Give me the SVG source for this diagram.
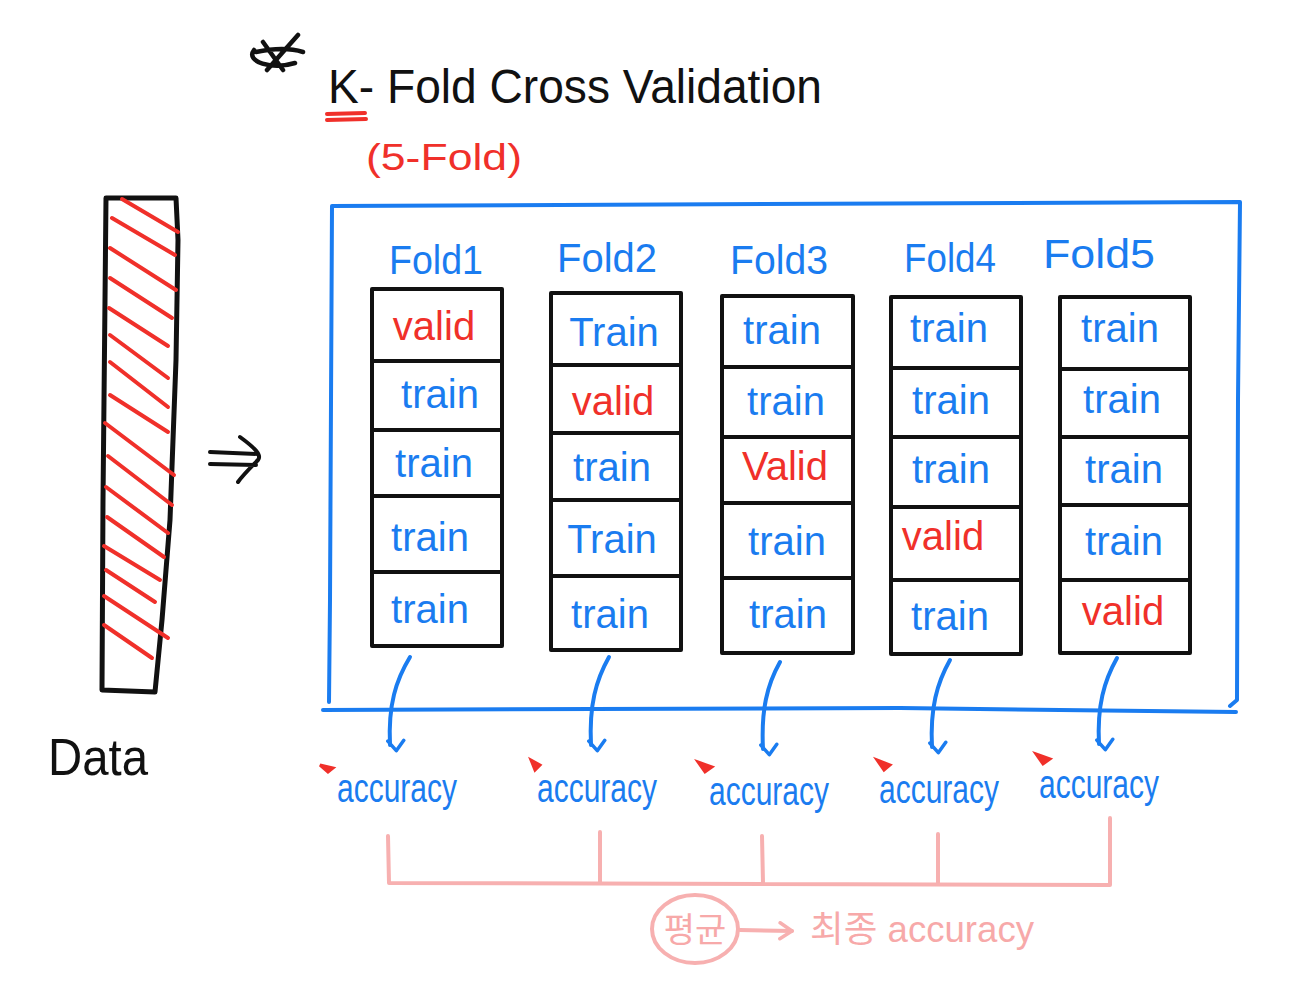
<svg xmlns="http://www.w3.org/2000/svg" width="1300" height="1000" viewBox="0 0 1300 1000">
<defs>
<style>
.hand{font-family:"Liberation Sans","Noto Sans","Noto Sans CJK KR",sans-serif;}
.blue{fill:#1a7cf0;}
.red{fill:#f0302a;}
.pink{fill:#f7a9a9;}
.blk{fill:#111;}
.box{fill:#fff;stroke:#111;stroke-width:4;stroke-linejoin:round;}
.div{stroke:#111;stroke-width:4;fill:none;}
.cell{font-size:40px;text-anchor:middle;}
.fold{font-size:40px;text-anchor:middle;}
.acc{font-size:40px;text-anchor:middle;}
.bl{stroke:#1a7cf0;stroke-width:4;fill:none;stroke-linecap:round;stroke-linejoin:round;}
.pk{stroke:#f7b0b0;stroke-width:4;fill:none;stroke-linecap:round;stroke-linejoin:round;}
.rd{stroke:#f0302a;stroke-width:4;fill:none;stroke-linecap:round;}
</style>
<marker id="ah" viewBox="0 0 20 20" refX="10" refY="16" markerWidth="20" markerHeight="20" markerUnits="userSpaceOnUse" orient="auto-start-reverse">
<path d="M2,6 L10,16 L18,6" fill="none" stroke="#1a7cf0" stroke-width="3.5" stroke-linecap="round" stroke-linejoin="round" transform="rotate(-90 10 10)"/>
</marker>
<marker id="ap" viewBox="0 0 20 20" refX="18" refY="10" markerWidth="20" markerHeight="20" markerUnits="userSpaceOnUse" orient="auto">
<path d="M6,2 L18,10 L6,18" fill="none" stroke="#f7b0b0" stroke-width="3.5" stroke-linecap="round" stroke-linejoin="round"/>
</marker>
</defs>
<rect width="1300" height="1000" fill="#fff"/>

<!-- Title -->
<g id="title">
<path d="M298,35 L267,70 M263,42 L283,70 M254,50 C245,62 272,70 295,63 M256,52 C275,48 290,48 303,52" fill="none" stroke="#111" stroke-width="4.5" stroke-linecap="round"/>
<text class="hand blk" x="328" y="103" font-size="48" textLength="494" lengthAdjust="spacingAndGlyphs">K- Fold Cross Validation</text>
<path class="rd" d="M327,114 L365,113 M327,120 L366,119"/>
<text class="hand red" x="366" y="170" font-size="36" textLength="156" lengthAdjust="spacingAndGlyphs">(5-Fold)</text>
</g>

<!-- Data bar -->
<g id="data">
<path d="M106,198 L176,198 L178,240 L176,360 L170,520 L162,620 L155,692 L102,690 L103,500 L105,300 Z" fill="none" stroke="#111" stroke-width="5" stroke-linejoin="round"/>
<g class="rd">
<path d="M122,199 L178,232"/>
<path d="M112,218 L175,255"/>
<path d="M110,248 L176,290"/>
<path d="M110,278 L172,318"/>
<path d="M109,308 L168,346"/>
<path d="M110,335 L168,378"/>
<path d="M110,362 L168,407"/>
<path d="M110,395 L168,432"/>
<path d="M105,423 L174,475"/>
<path d="M108,456 L172,505"/>
<path d="M106,487 L168,533"/>
<path d="M107,517 L164,557"/>
<path d="M104,546 L160,580"/>
<path d="M106,570 L155,602"/>
<path d="M104,596 L168,638"/>
<path d="M104,625 L152,658"/>
</g>
<text class="hand blk" x="48" y="775" font-size="52" textLength="100" lengthAdjust="spacingAndGlyphs">Data</text>
</g>

<!-- implies arrow -->
<g id="implies" fill="none" stroke="#111" stroke-width="4" stroke-linecap="round">
<path d="M210,452 L258,454 M210,464 L256,465 M240,437 C255,448 262,455 258,460 C250,468 243,475 238,482"/>
</g>

<!-- Blue frame -->
<g id="frame">
<path class="bl" d="M332,206 L1240,202 L1238,400 L1237,700 L1230,706 M323,710 L900,708 L1236,712 M332,206 L330,600 L329,702"/>
</g>

<!-- Fold 1 -->
<g id="fold1">
<text class="hand blue fold" x="436" y="274" textLength="94" lengthAdjust="spacingAndGlyphs">Fold1</text>
<rect class="box" x="372" y="289" width="130" height="357"/>
<path class="div" d="M372,361 L502,361 M372,430 L502,430 M372,496 L502,496 M372,572 L502,572"/>
<text class="hand red cell" x="434" y="340">valid</text>
<text class="hand blue cell" x="440" y="408">train</text>
<text class="hand blue cell" x="434" y="477">train</text>
<text class="hand blue cell" x="430" y="551">train</text>
<text class="hand blue cell" x="430" y="623">train</text>
</g>

<!-- Fold 2 -->
<g id="fold2">
<text class="hand blue fold" x="607" y="272" textLength="100" lengthAdjust="spacingAndGlyphs">Fold2</text>
<rect class="box" x="551" y="293" width="130" height="357"/>
<path class="div" d="M551,365 L681,365 M551,433 L681,433 M551,500 L681,500 M551,576 L681,576"/>
<text class="hand blue cell" x="614" y="346">Train</text>
<text class="hand red cell" x="613" y="415">valid</text>
<text class="hand blue cell" x="612" y="481">train</text>
<text class="hand blue cell" x="612" y="553">Train</text>
<text class="hand blue cell" x="610" y="628">train</text>
</g>

<!-- Fold 3 -->
<g id="fold3">
<text class="hand blue fold" x="779" y="274" textLength="98" lengthAdjust="spacingAndGlyphs">Fold3</text>
<rect class="box" x="722" y="296" width="131" height="357"/>
<path class="div" d="M722,367 L853,367 M722,437 L853,437 M722,503 L853,503 M722,578 L853,578"/>
<text class="hand blue cell" x="782" y="344">train</text>
<text class="hand blue cell" x="786" y="415">train</text>
<text class="hand red cell" x="785" y="480">Valid</text>
<text class="hand blue cell" x="787" y="555">train</text>
<text class="hand blue cell" x="788" y="628">train</text>
</g>

<!-- Fold 4 -->
<g id="fold4">
<text class="hand blue fold" x="950" y="272" textLength="92" lengthAdjust="spacingAndGlyphs">Fold4</text>
<rect class="box" x="891" y="297" width="130" height="357"/>
<path class="div" d="M891,368 L1021,368 M891,437 L1021,437 M891,507 L1021,507 M891,580 L1021,580"/>
<text class="hand blue cell" x="949" y="342">train</text>
<text class="hand blue cell" x="951" y="414">train</text>
<text class="hand blue cell" x="951" y="483">train</text>
<text class="hand red cell" x="943" y="550">valid</text>
<text class="hand blue cell" x="950" y="630">train</text>
</g>

<!-- Fold 5 -->
<g id="fold5">
<text class="hand blue fold" x="1099" y="268" textLength="112" lengthAdjust="spacingAndGlyphs">Fold5</text>
<rect class="box" x="1060" y="297" width="130" height="356"/>
<path class="div" d="M1060,369 L1190,369 M1060,437 L1190,437 M1060,505 L1190,505 M1060,580 L1190,580"/>
<text class="hand blue cell" x="1120" y="342">train</text>
<text class="hand blue cell" x="1122" y="413">train</text>
<text class="hand blue cell" x="1124" y="483">train</text>
<text class="hand blue cell" x="1124" y="555">train</text>
<text class="hand red cell" x="1123" y="625">valid</text>
</g>

<!-- Connectors -->
<g id="connectors">
<path class="bl" d="M410,657 C396,680 388,705 390,745" marker-end="url(#ah)"/>
<path class="bl" d="M609,657 C596,680 589,705 591,745" marker-end="url(#ah)"/>
<path class="bl" d="M780,662 C767,685 761,710 763,749" marker-end="url(#ah)"/>
<path class="bl" d="M950,660 C937,683 930,708 932,747" marker-end="url(#ah)"/>
<path class="bl" d="M1117,658 C1104,681 1097,706 1099,744" marker-end="url(#ah)"/>
<path class="pk" d="M388,836 L389,883 L1110,885 L1110,818 M600,832 L600,883 M762,836 L763,883 M938,834 L938,883"/>
<path class="pk" d="M740,930 L792,931" marker-end="url(#ap)"/>
</g>

<!-- Accuracy labels -->
<g id="acc1"><path d="M320,765 L333,768 L328,772 Z" fill="#f0302a" stroke="#f0302a" stroke-width="3"/><text class="hand blue acc" x="397" y="802" textLength="120" lengthAdjust="spacingAndGlyphs">accuracy</text></g>
<g id="acc2"><path d="M531,760 L540,765 L535,770 Z" fill="#f0302a" stroke="#f0302a" stroke-width="3"/><text class="hand blue acc" x="597" y="802" textLength="120" lengthAdjust="spacingAndGlyphs">accuracy</text></g>
<g id="acc3"><path d="M698,762 L712,767 L705,772 Z" fill="#f0302a" stroke="#f0302a" stroke-width="3"/><text class="hand blue acc" x="769" y="805" textLength="120" lengthAdjust="spacingAndGlyphs">accuracy</text></g>
<g id="acc4"><path d="M877,760 L890,765 L884,770 Z" fill="#f0302a" stroke="#f0302a" stroke-width="3"/><text class="hand blue acc" x="939" y="803" textLength="120" lengthAdjust="spacingAndGlyphs">accuracy</text></g>
<g id="acc5"><path d="M1036,754 L1050,759 L1043,764 Z" fill="#f0302a" stroke="#f0302a" stroke-width="3"/><text class="hand blue acc" x="1099" y="798" textLength="120" lengthAdjust="spacingAndGlyphs">accuracy</text></g>

<!-- Final -->
<g id="average">
<ellipse cx="695" cy="929" rx="43" ry="34" fill="none" stroke="#f7b0b0" stroke-width="4"/>
<text class="hand pink" x="695" y="942" font-size="34" text-anchor="middle">평균</text>
</g>
<g id="final">
<text class="hand pink" x="810" y="942" font-size="36" textLength="224" lengthAdjust="spacingAndGlyphs">최종 accuracy</text>
</g>
</svg>
